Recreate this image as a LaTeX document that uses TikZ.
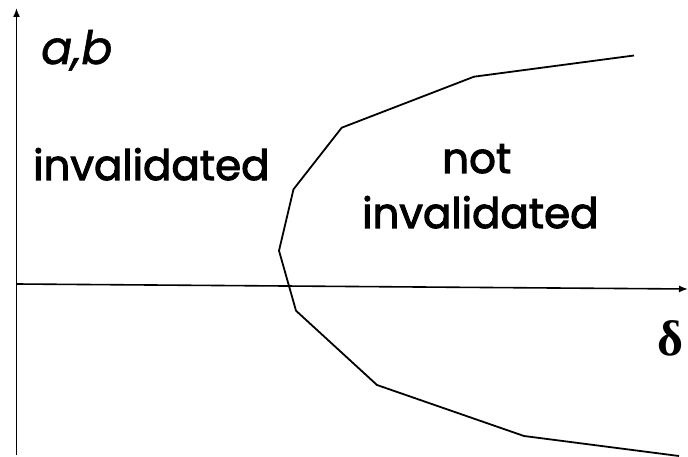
\documentclass[tikz,border=0pt]{standalone}
\usepackage{fontspec}
\setmainfont{Poppins}[FakeBold=2.4]
\newfontfamily\abfont{Poppins}[FakeBold=1.2]
\newfontfamily\deltafont{Liberation Serif}
\usetikzlibrary{arrows.meta}
\begin{document}
\begin{tikzpicture}[x=1pt,y=-1pt,
  axis/.style={line width=1.6pt,-{Latex[length=9pt,width=7pt]}},
  curve/.style={line width=1.8pt,line join=miter},
  lbl/.style={font=\fontsize{42}{44}\selectfont,inner sep=0pt,anchor=base west}]
\useasboundingbox (0,0) rectangle (688,457);
% axes
\coordinate (yb) at (16.5,455);
\coordinate (yt) at (16.5,8);
\coordinate (xl) at (16.5,284);
\coordinate (xr) at (688,289);
\draw[axis] (yb) -- (yt);
\draw[axis] (xl) -- (xr);
% boundary curve
\coordinate (p1) at (634,55.5);
\coordinate (p2) at (474,76.7);
\coordinate (p3) at (341.7,127.7);
\coordinate (p4) at (293.5,189.3);
\coordinate (p5) at (279,250.7);
\coordinate (p6) at (296,310.7);
\coordinate (p7) at (377,385);
\coordinate (p8) at (524,436);
\coordinate (p9) at (679,456);
\draw[curve] (p1) -- (p2) -- (p3) -- (p4) -- (p5) -- (p6) -- (p7) -- (p8) -- (p9);
% labels
\node[lbl,font=\fontsize{46}{48}\selectfont\abfont\itshape] (ab) at (41,64) {a,b};
\node[lbl] (inv) at (33,180) {invalidated};
\node[lbl] (not) at (442,173) {not};
\node[lbl] (ninv) at (362,228) {invalidated};
\node[lbl,font=\fontsize{50}{54}\selectfont\deltafont\bfseries] (d) at (657,355) {δ};
\end{tikzpicture}
\end{document}
